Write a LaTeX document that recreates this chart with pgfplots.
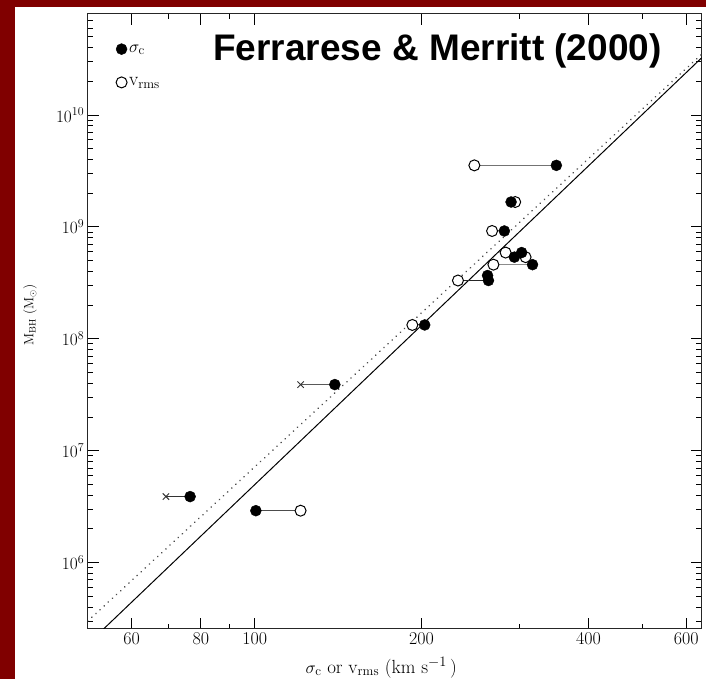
\documentclass[border=0pt]{standalone}
\usepackage{pgfplots}
\pgfplotsset{compat=1.18}
\usepackage{pgfplotstable}
\usepackage{fontspec}
\newfontfamily\titlefont{Liberation Sans}
\definecolor{bgred}{RGB}{128,0,0}

% sigma_c (filled)
\pgfplotstableread{
v M
350 3.55e9
290 1.67e9
282 9.2e8
303 5.9e8
294 5.37e8
317 4.6e8
264 3.32e8
263 3.68e8
202.6 1.33e8
139.5 3.9e7
76.5 3.89e6
100.5 2.91e6
}\sigmac

% v_rms (open)
\pgfplotstableread{
v M
249 3.55e9
295 1.67e9
268 9.2e8
283.5 5.9e8
308 5.37e8
269.5 4.6e8
232.6 3.32e8
192.5 1.33e8
121 2.91e6
}\vrms

% crosses
\pgfplotstableread{
v M
121 3.9e7
69.2 3.89e6
}\crosses

\begin{document}
\begin{tikzpicture}
\fill[bgred] (0pt,0pt) rectangle (706pt,679pt);
\fill[white] (15pt,0pt) rectangle (706pt,672pt);
\begin{axis}[
  at={(87.7pt,50pt)}, anchor=south west,
  scale only axis, width=614pt, height=615pt,
  xmode=log, ymode=log,
  xmin=50, xmax=640, ymin=2.55e5, ymax=8e10,
  xtick={60,80,100,200,400,600},
  xticklabels={60,80,100,200,400,600},
  minor xtick={70,90,300,500},
  ytick={1e6,1e7,1e8,1e9,1e10},
  minor ytick={3e5,4e5,5e5,6e5,7e5,8e5,9e5,
    2e6,3e6,4e6,5e6,6e6,7e6,8e6,9e6,
    2e7,3e7,4e7,5e7,6e7,7e7,8e7,9e7,
    2e8,3e8,4e8,5e8,6e8,7e8,8e8,9e8,
    2e9,3e9,4e9,5e9,6e9,7e9,8e9,9e9,
    2e10,3e10,4e10,5e10,6e10,7e10},
  major tick length=11pt, minor tick length=5.5pt,
  tick style={black, line width=0.9pt},
  axis line style={black!85, line width=1pt},
  tick label style={font=\fontsize{18}{21}\selectfont},
  xlabel={$\sigma_{\mathrm{c}}$ or $\mathrm{v}_{\mathrm{rms}}$ (km s$^{-1}$\,)},
  ylabel={$\mathrm{M}_{\mathrm{BH}}$ ($\mathrm{M}_{\odot}$)},
  xlabel style={font=\fontsize{19}{22}\selectfont, at={(axis description cs:0.478,-0.063)}, anchor=center},
  ylabel style={font=\fontsize{13.5}{16}\selectfont, at={(axis description cs:-0.094,0.51)}, anchor=center},
  legend style={draw=none, fill=none, at={(axis description cs:0.041,0.957)}, anchor=north west,
    font=\fontsize{19}{21}\selectfont, row sep=20pt},
  legend cell align=left,
]
\addlegendimage{only marks, mark=*, mark size=5.5pt, mark options={fill=black, draw=black}}
\addlegendentry{$\sigma_{\mathrm{c}}$}
\addlegendimage{only marks, mark=*, mark size=5.5pt, mark options={fill=white, draw=black, line width=1pt}}
\addlegendentry{$\mathrm{v}_{\mathrm{rms}}$}
% fits
\addplot[black, line width=1pt, forget plot] coordinates {(53.4,2.55e5) (640,3.25e10)};
\addplot[black!70, line width=1.7pt, line cap=round, dash pattern=on 0.1pt off 5.5pt, forget plot]
  coordinates {(50,3.0e5) (640,3.5e10)};
% connectors
\addplot[black!55, line width=1pt, forget plot] coordinates {(249,3.55e9) (350,3.55e9)};
\addplot[black!55, line width=1pt, forget plot] coordinates {(290,1.67e9) (295,1.67e9)};
\addplot[black!55, line width=1pt, forget plot] coordinates {(268,9.2e8) (282,9.2e8)};
\addplot[black!55, line width=1pt, forget plot] coordinates {(283.5,5.9e8) (303,5.9e8)};
\addplot[black!55, line width=1pt, forget plot] coordinates {(294,5.37e8) (308,5.37e8)};
\addplot[black!45, line width=1pt, forget plot] coordinates {(269.5,4.6e8) (317,4.6e8)};
\addplot[black!85, line width=1pt, forget plot] coordinates {(232.6,3.32e8) (264,3.32e8)};
\addplot[black!70, line width=1pt, forget plot] coordinates {(192.5,1.33e8) (202.6,1.33e8)};
\addplot[black!65, line width=1pt, forget plot] coordinates {(121,3.9e7) (139.5,3.9e7)};
\addplot[black!80, line width=1pt, forget plot] coordinates {(69.2,3.89e6) (76.5,3.89e6)};
\addplot[black!70, line width=1pt, forget plot] coordinates {(100.5,2.91e6) (121,2.91e6)};
% points
\addplot[only marks, mark=x, mark size=4.5pt, mark options={line width=0.9pt, black!80}, forget plot] table {\crosses};
\addplot[only marks, mark=*, mark size=5.5pt, mark options={fill=white, draw=black, line width=1pt}, forget plot] table {\vrms};
\addplot[only marks, mark=*, mark size=5.5pt, mark options={fill=black, draw=black}, forget plot] table {\sigmac};
\end{axis}
\node[font=\titlefont\bfseries\fontsize{37}{40}\selectfont, anchor=base] at (437.5pt,618pt) {Ferrarese \& Merritt (2000)};
\end{tikzpicture}
\end{document}
